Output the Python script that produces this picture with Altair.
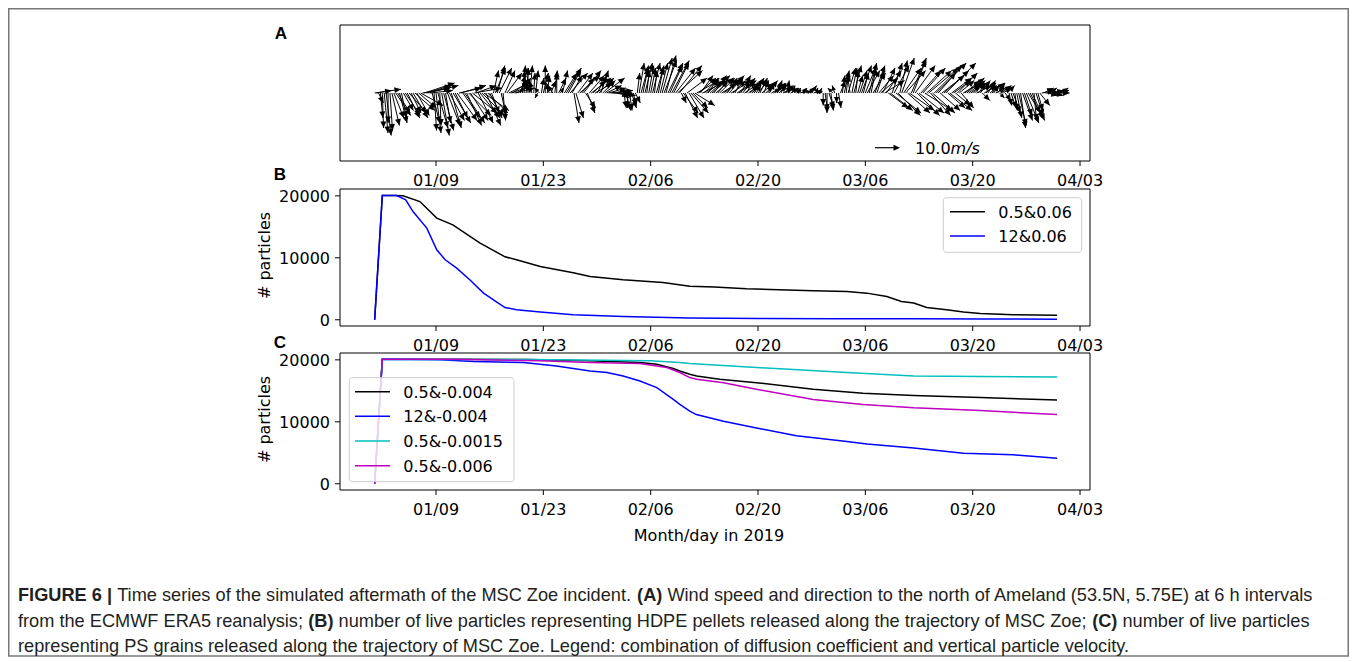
import altair as alt
import numpy as np
import pandas as pd

# ---------------- data (time = days since 2019-01-01 00:00) ----------------
# Panel A: wind vectors (m/s), every 6 h (4 values per day, one row per day)
wind_u = [
    10.5, 6, 2, 1,  0.5, 1.5, 2, 0,  1, 3, 4, 6,  5, 3, 2, 4,  6, 5, 7, 4,
    6, 8, 5, 7,  9, 11, 12, 10,  12, 9, 3, 1,  2, 4, 0.5, 3,  4, 2, 5, 6,
    4, 7, 5, 8,  9, 10, 7, 8,  6, 9, 7, 10,  11, 8, 6, 8,  9, 10, 6, 8,
    5, 3, 2, 4,  3, 5, 2, 1,  4, 6, 8, 9,  7, 8, 6, 5,  2, 1, 0.5, 1,
    0, 1, -1, 0.5,  1, -1, -2, 1,  2, 0, 1, -1,  2, -2, 1, 0,  3, 1, 2, 5,
    6, 5, 7, 4,  2, 3, 6, 8,  5, 7, 4, 3,  6, 8, 5, 7,  4, 6, 3, 5,
    8, 6, 7, 9,  8, 6, 5, 7,  4, 3, 1, 2,  0, 1, 2, 1,  2, 1, 2, 3,
    2, 3, 1, 2,  2, 3, 1, 3,  2, 3, 4, 5,  4, 6, 5, 7,  6, 8, 10, 9,
    2, 6, 5, 8,  6, 7, 6, 8,  9, 7, 5, 8,  6, 7, 4, 8,  6, 5, 7, 4,
    6, 8, 5, 7,  4, 6, 8, 5,  3, 6, 7, 4,  5, 6, 3, 4,  5, 3, 4, 2,
    4, 3, 5, 2,  3, 4, 2, 5,  3, 4, 2, 3,  2, 4, 3, 1,  2, 3, 1, 2,
    2, 1, 3, 2,  1, 2, 3, 1,  2, 3, 1, 2,  1, -1, 0, 1,  0, 2, 1, -2,
    -1, 0, 1, 2,  1, 2, 1, 3,  -1, 2, 3, 1,  2, 3, 4, 2,  4, 5, 3, 2,
    5, 4, 3, 6,  7, 5, 8, 6,  8, 9, 4, 6,  10, 9, 3, 5,  7, 8, 9, 10,
    6, 5, 8, 9,  10, 8, 9, 11,  10, 12, 8, 9,  11, 12, 7, 8,  9, 10, 12, 7,
    9, 8, 7, 6,  8, 6, 5, 7,  6, 7, 5, 4,  5, 4, 6, 3,  4, 3, 5, 4,
    3, 4, 5, 2,  4, 3, 2, 4,  3, 2, 3, 1,  2, 3, 1, 2,  3, 2, 4, 3,
    5, 6, 4, 5,  1, 3, 2, 4,  5, 4, 6, 4,  3, 5, 4, 3,  5, 4, 3, 2,
]
wind_v = [
    1.5, 1, -4, -10,  -14, -16, -17, -12,  -15, -13, -10, -9,  -8, -12, -10, -7,  -9, -10, -8, -8,
    -10, -7, -9, -6,  -5, 2, 4, 3,  3, 1, -12, -15,  -16, -14, -13, -17,  -15, -12, -13, -11,
    -14, -12, -10, -11,  2, 3, -10, -12,  -13, -9, -11, -8,  2, 3, -12, -10,  -9, -7, -13, -8,
    -10, -8, 9, 10,  11, 10, -9, -11,  9, 8, 4, 3,  5, 2, 3, 6,  7, 9, 11, 10,
    10, 11, 5, 8,  9, -2, 2, 6,  8, 11, 7, 4,  5, 3, 9, 8,  6, 2, 9, 8,
    10, 9, 8, 7,  -12, -10, 8, 7,  6, 9, -6, -8,  7, 6, 5, 4,  7, 6, 9, 5,
    6, 3, 2, 1,  0, 1, -1, -1,  -1, -2, -6, -7,  -6, -7, -6, -5,  -4, 8, 12, 11,
    10, 12, 9, 11,  10, 12, 9, 11,  10, 12, 14, 13,  15, 12, 11, 13,  12, 10, 9, 11,
    -4, -8, -10, 6,  -10, -8, -6, -5,  5, 6, 7, 4,  6, 5, 6, 7,  5, 7, 6, 5,
    6, 5, 4, 6,  6, 7, 5, 5,  6, 4, 5, 7,  6, 4, 5, 3,  5, 4, 6, 3,
    5, 6, 4, 5,  3, 5, 4, 3,  2, 4, 5, 3,  4, 2, 3, 5,  3, 2, 3, 2,
    1, 2, 1, 2,  2, 1, 2, 1,  3, 1, 2, 0.5,  2, 1, -5, -7,  -8, -6, -7, 2,
    3, -4, -6, 5,  7, 9, 8, 10,  7, 10, 11, 9,  7, 9, 11, 8,  10, 9, 12, 10,
    8, 11, 9, 7,  6, 10, 5, 9,  -6, -7, 12, 11,  -8, -9, 13, 14,  10, 9, -8, -7,
    14, 13, 11, -9,  -8, 9, 10, -7,  9, 10, -9, -8,  11, 12, 8, -7,  7, 9, 12, -6,
    -7, 6, 5, -5,  8, 5, -6, 4,  5, 6, 4, 3,  5, 4, 3, 4,  5, -3, 3, 4,
    5, 3, 4, 3,  2, 4, -2, 3,  2, -3, 3, -5,  -6, -8, -7, -10,  -13, -14, -11, -9,
    -12, -10, -8, -11,  -11, -9, -7, -5,  1, 2, 0, -1,  2, 1, -1, 1,  0, 1, 2, 1,
]
wind_step_days = 0.25

# Panel B: HDPE pellets
b1_day = [0, 1.0, 2.5, 3.7, 5.9, 8.1, 10.2, 13.7, 17.0, 18.5, 21.6, 25.9, 28.1, 32.4, 37.6,
          41.1, 44.3, 48.5, 57.2, 61.6, 64.2, 66.8, 68.7, 70.3, 72.0, 74.6, 76.8, 79.0, 83.3, 89.0]
b1_n = [0, 20050, 20050, 20000, 19080, 16400, 15320, 12420, 10160, 9680, 8600, 7580, 6980, 6450, 6020,
        5400, 5300, 5000, 4680, 4570, 4300, 3760, 2950, 2690, 1980, 1610, 1240, 1020, 800, 750]
b2_day = [0, 1.0, 2.9, 4.05, 5.0, 6.8, 8.1, 9.2, 10.7, 12.4, 14.2, 15.5, 17.0, 18.5, 21.6, 25.9,
          32.4, 41.1, 50, 60, 70, 80, 89]
b2_n = [0, 20050, 20050, 19350, 17470, 14790, 11290, 9680, 8340, 6450, 4300, 3230, 1980, 1610, 1240, 800,
        530, 300, 220, 180, 150, 120, 100]

# Panel C: PS grains
c1_day = [0, 1, 10, 20, 28, 34.6, 36.8, 38.95, 39.8, 41.1, 42, 45, 49.8, 57.2, 63.7, 70.3, 79.0, 89]
c1_n = [0, 20100, 20100, 20050, 19850, 19580, 19300, 18600, 18210, 17680, 17400, 16860, 16320, 15240,
        14590, 14260, 13940, 13500]
c2_day = [0, 1, 8.5, 12.9, 19.4, 23.7, 28.1, 30.3, 32.4, 34.6, 36.8, 38.95, 39.8, 41.1, 41.95, 45.5,
          49.8, 55.0, 61.6, 64.2, 70.3, 76.8, 83.3, 89]
c2_n = [0, 20100, 20000, 19740, 19580, 19020, 18210, 17950, 17400, 16590, 15510, 13610, 12800, 11710,
        11170, 10080, 9010, 7760, 6830, 6400, 5760, 4940, 4670, 4130]
c3_day = [0, 1, 20, 35.9, 39.8, 41.1, 49.8, 61.6, 70.3, 79, 89]
c3_n = [0, 20100, 20050, 19840, 19580, 19410, 18760, 17950, 17400, 17300, 17240]
c4_day = [0, 1, 10, 21.6, 28.1, 34.6, 38.1, 39.8, 41.1, 42, 45.5, 49.8, 57.2, 63.7, 70.3, 79, 89]
c4_n = [0, 20100, 20100, 19840, 19580, 19410, 18760, 17950, 17140, 16860, 16320, 15240, 13610, 12800,
        12260, 11820, 11170]

xtick_day = [8, 22, 36, 50, 64, 78, 92]
xtick_label = ["01/09", "01/23", "02/06", "02/20", "03/06", "03/20", "04/03"]
ytick_val = [0, 10000, 20000]
ytick_label = ["0", "10000", "20000"]

legB_label = ["0.5&0.06", "12&0.06"]
legB_color = ["#000000", "#0000ff"]
legC_label = ["0.5&-0.004", "12&-0.004", "0.5&-0.0015", "0.5&-0.006"]
legC_color = ["#000000", "#0000ff", "#00bfbf", "#bf00bf"]

key_speed = 10.0

# caption: one list of (text, bold) segments per line
caption_lines = [
    [("FIGURE 6 |", True),
     ("Time series of the simulated aftermath of the MSC Zoe incident.", False),
     ("(A)", True),
     ("Wind speed and direction to the north of Ameland (53.5N, 5.75E) at 6 h intervals", False)],
    [("from the ECMWF ERA5 reanalysis;", False),
     ("(B)", True),
     ("number of live particles representing HDPE pellets released along the trajectory of MSC Zoe;", False),
     ("(C)", True),
     ("number of live particles", False)],
    [("representing PS grains released along the trajectory of MSC Zoe. Legend: combination of "
      "diffusion coefficient and vertical particle velocity.", False)],
]

# ---------------- layout / style ----------------
FONT = "DejaVu Sans"
CAPFONT = "Liberation Sans"
CAP_FS = 18.2
W, H = 1341, 650
PX0, PX1 = 332, 1082
A_T, A_B = 17, 153
B_T, B_B = 181, 318
C_T, C_B = 345, 482
XS = alt.Scale(domain=[-4.52, 93.3], range=[PX0, PX1], zero=False, nice=False)
PX_PER_DAY = (PX1 - PX0) / (93.3 + 4.52)
PX_PER_MS = 2.5
YA_HALF = (A_B - A_T) / 2 / PX_PER_MS
YA = alt.Scale(domain=[-YA_HALF, YA_HALF], range=[A_B, A_T], zero=False, nice=False)
YB = alt.Scale(domain=[-1005, 21105], range=[B_B, B_T], zero=False, nice=False)
YC = alt.Scale(domain=[-1005, 21105], range=[C_B, C_T], zero=False, nice=False)
one = pd.DataFrame({"k": [0]})
layers = []

# Arial / Liberation Sans advance widths (1/1000 em) for caption layout
_REG = {" ": 278, "(": 333, ")": 333, ",": 278, "-": 333, ".": 278, ":": 278, ";": 278, "|": 260,
        "&": 667, "/": 278}
_REG.update({d: 556 for d in "0123456789"})
_REG.update(dict(zip("ABCDEFGHIJKLMNOPQRSTUVWXYZ",
                     [667, 667, 722, 722, 667, 611, 778, 722, 278, 500, 667, 556, 833, 722, 778, 667, 778,
                      722, 667, 611, 722, 667, 944, 667, 667, 611])))
_REG.update(dict(zip("abcdefghijklmnopqrstuvwxyz",
                     [556, 556, 500, 556, 556, 278, 556, 556, 222, 222, 500, 222, 833, 556, 556, 556, 556,
                      333, 500, 278, 556, 500, 722, 500, 500, 500])))
_BOLD = {" ": 278, "(": 333, ")": 333, "|": 280}
_BOLD.update({d: 556 for d in "0123456789"})
_BOLD.update(dict(zip("ABCDEFGHIJKLMNOPQRSTUVWXYZ",
                      [722, 722, 722, 722, 667, 611, 778, 722, 278, 556, 722, 611, 833, 722, 778, 667, 778,
                       722, 667, 611, 722, 667, 944, 667, 667, 611])))


def text_w(s, bold, fs):
    tab = _BOLD if bold else _REG
    return sum(tab.get(ch, 556) for ch in s) * fs / 1000.0


# outer box
layers.append(alt.Chart(one).mark_rect(fillOpacity=0, stroke="#777777", strokeWidth=1.5).encode(
    x=alt.value(0.75), x2=alt.value(W - 0.75), y=alt.value(0.75), y2=alt.value(648)))

# ---------------- panel A quiver ----------------
assert len(wind_u) == len(wind_v)
u = np.array(wind_u, dtype=float)
v = np.array(wind_v, dtype=float)
t = np.arange(len(u)) * wind_step_days
dfA = pd.DataFrame({"t": t, "u": u, "v": v})
dfA["t2"] = dfA["t"] + dfA["u"] * PX_PER_MS / PX_PER_DAY
dfA["zero"] = 0.0
dfA["ang"] = (90 - np.degrees(np.arctan2(dfA["v"], dfA["u"]))) % 360
len_px = PX_PER_MS * np.hypot(u, v)
head_len = np.minimum(6.5, 0.45 * len_px + 1.5)
dfA["hs"] = 4 * head_len ** 2
HEAD = "M0,0L-0.45,1L0.45,1Z"
HEAD_SIZE = 169
layers.append(alt.Chart(dfA).mark_rule(color="black", strokeWidth=1.0).encode(
    x=alt.X("t:Q", scale=XS, axis=None), x2="t2:Q",
    y=alt.Y("zero:Q", scale=YA, axis=None), y2="v:Q"))
layers.append(alt.Chart(dfA).mark_point(shape=HEAD, filled=True, color="black",
                                        opacity=1, strokeWidth=0).encode(
    x=alt.X("t2:Q", scale=XS, axis=None), y=alt.Y("v:Q", scale=YA, axis=None),
    angle=alt.Angle("ang:Q", scale=None), size=alt.Size("hs:Q", scale=None)))
# key arrow
kx0, ky = 867, 139.7
klen = key_speed * PX_PER_MS
layers.append(alt.Chart(one).mark_rule(color="black", strokeWidth=1.2).encode(
    x=alt.value(kx0), x2=alt.value(kx0 + klen - 2), y=alt.value(ky)))
layers.append(alt.Chart(one).mark_point(shape=HEAD, filled=True, size=HEAD_SIZE, color="black",
                                        opacity=1, strokeWidth=0, angle=90).encode(
    x=alt.value(kx0 + klen), y=alt.value(ky)))
layers.append(alt.Chart(one).mark_text(font=FONT, fontSize=16, color="black", align="left",
                                       baseline="alphabetic").encode(
    x=alt.value(907), y=alt.value(145.5), text=alt.value(f"{key_speed:.1f}")))
layers.append(alt.Chart(one).mark_text(font=FONT, fontSize=16, fontStyle="italic", color="black",
                                       align="left", baseline="alphabetic").encode(
    x=alt.value(942.6), y=alt.value(145.5), text=alt.value("m/s")))


# ---------------- helpers ----------------
def frame(top, bottom):
    return alt.Chart(one).mark_rect(fillOpacity=0, stroke="black", strokeWidth=1).encode(
        x=alt.value(PX0), x2=alt.value(PX1), y=alt.value(top), y2=alt.value(bottom))


def xaxis(bottom):
    df = pd.DataFrame({"d": xtick_day, "lab": xtick_label})
    ticks = alt.Chart(df).mark_rule(color="black", strokeWidth=1).encode(
        x=alt.X("d:Q", scale=XS, axis=None), y=alt.value(bottom), y2=alt.value(bottom + 5))
    labs = alt.Chart(df).mark_text(font=FONT, fontSize=16, color="black", align="center",
                                   baseline="alphabetic").encode(
        x=alt.X("d:Q", scale=XS, axis=None), y=alt.value(bottom + 25), text="lab:N")
    return [ticks, labs]


def yaxis(scale, center):
    df = pd.DataFrame({"val": ytick_val, "lab": ytick_label})
    ticks = alt.Chart(df).mark_rule(color="black", strokeWidth=1).encode(
        y=alt.Y("val:Q", scale=scale, axis=None), x=alt.value(PX0 - 5), x2=alt.value(PX0))
    labs = alt.Chart(df).mark_text(font=FONT, fontSize=16, color="black", align="right",
                                   baseline="alphabetic", dy=6).encode(
        y=alt.Y("val:Q", scale=scale, axis=None), x=alt.value(PX0 - 10), text="lab:N")
    title = alt.Chart(one).mark_text(font=FONT, fontSize=16, color="black", align="center",
                                     baseline="middle", angle=270).encode(
        x=alt.value(257), y=alt.value(center), text=alt.value("# particles"))
    return [ticks, labs, title]


def series(days, vals, color, scale):
    df = pd.DataFrame({"day": days, "n": vals})
    return alt.Chart(df).mark_line(color=color, strokeWidth=1.5).encode(
        x=alt.X("day:Q", scale=XS, axis=None), y=alt.Y("n:Q", scale=scale, axis=None))


def legend(labels, colors, box, rows, sw_x, txt_x):
    df = pd.DataFrame({"row": list(range(len(labels))), "lab": labels, "col": colors})
    rs = alt.Scale(domain=[0, max(1, len(labels) - 1)], range=rows, zero=False, nice=False)
    bg = alt.Chart(one).mark_rect(fill="white", fillOpacity=0.8, stroke="#cccccc", strokeWidth=1,
                                  cornerRadius=3).encode(
        x=alt.value(box[0]), x2=alt.value(box[2]), y=alt.value(box[1]), y2=alt.value(box[3]))
    sw = alt.Chart(df).mark_rule(strokeWidth=1.5).encode(
        y=alt.Y("row:Q", scale=rs, axis=None), x=alt.value(sw_x[0]), x2=alt.value(sw_x[1]),
        color=alt.Color("col:N", scale=None))
    tx = alt.Chart(df).mark_text(font=FONT, fontSize=16, color="black", align="left",
                                 baseline="alphabetic", dy=6).encode(
        y=alt.Y("row:Q", scale=rs, axis=None), x=alt.value(txt_x), text="lab:N")
    return [bg, sw, tx]


def letter(s, x, y):
    return alt.Chart(one).mark_text(font="Liberation Sans", fontSize=17, fontWeight="bold",
                                    color="black", align="center", baseline="alphabetic").encode(
        x=alt.value(x), y=alt.value(y), text=alt.value(s))


# panel A frame/axis
layers.append(frame(A_T, A_B))
layers += xaxis(A_B)
layers.append(letter("A", 273, 31))

# panel B
layers.append(series(b1_day, b1_n, "#000000", YB))
layers.append(series(b2_day, b2_n, "#0000ff", YB))
layers.append(frame(B_T, B_B))
layers += xaxis(B_B)
layers += yaxis(YB, (B_T + B_B) / 2 - 2)
layers += legend(legB_label, legB_color, (935.3, 189.7, 1073.7, 244.3), [203.7, 228], (942, 977), 990.3)
layers.append(letter("B", 272, 172))

# panel C
layers.append(series(c1_day, c1_n, legC_color[0], YC))
layers.append(series(c2_day, c2_n, legC_color[1], YC))
layers.append(series(c3_day, c3_n, legC_color[2], YC))
layers.append(series(c4_day, c4_n, legC_color[3], YC))
layers.append(frame(C_T, C_B))
layers += xaxis(C_B)
layers += yaxis(YC, (C_T + C_B) / 2 - 2)
layers += legend(legC_label, legC_color, (341.3, 369.7, 506, 473.7), [383.7, 457.7], (347, 382), 395.3)
layers.append(letter("C", 272, 340))
layers.append(alt.Chart(one).mark_text(font=FONT, fontSize=16, color="black", align="center",
                                       baseline="alphabetic").encode(
    x=alt.value(701), y=alt.value(533), text=alt.value("Month/day in 2019")))

# ---------------- caption ----------------
cap_x0 = 10
cap_base = [592.5, 618.5, 643.5]
rows = []
for line, yb in zip(caption_lines, cap_base):
    xcur = cap_x0
    for s, b in line:
        rows.append({"s": s, "b": b, "x": xcur, "y": yb})
        xcur += text_w(s, b, CAP_FS) + text_w(" ", False, CAP_FS)
capdf = pd.DataFrame(rows)
for flag in (True, False):
    sub = capdf[capdf["b"] == flag][["s", "x", "y"]]
    mk = dict(font=CAPFONT, fontSize=CAP_FS, color="#231f20", align="left", baseline="alphabetic")
    if flag:
        mk["fontWeight"] = "bold"
    layers.append(alt.Chart(sub).mark_text(**mk).encode(
        x=alt.X("x:Q", scale=None), y=alt.Y("y:Q", scale=None), text="s:N"))

chart = alt.layer(*layers).resolve_scale(x="independent", y="independent").properties(
    width=W, height=H, padding=0, autosize=alt.AutoSizeParams(type="none")
).configure_view(stroke=None)

chart.save("out.html", embed_options={"renderer": "svg", "actions": False})
